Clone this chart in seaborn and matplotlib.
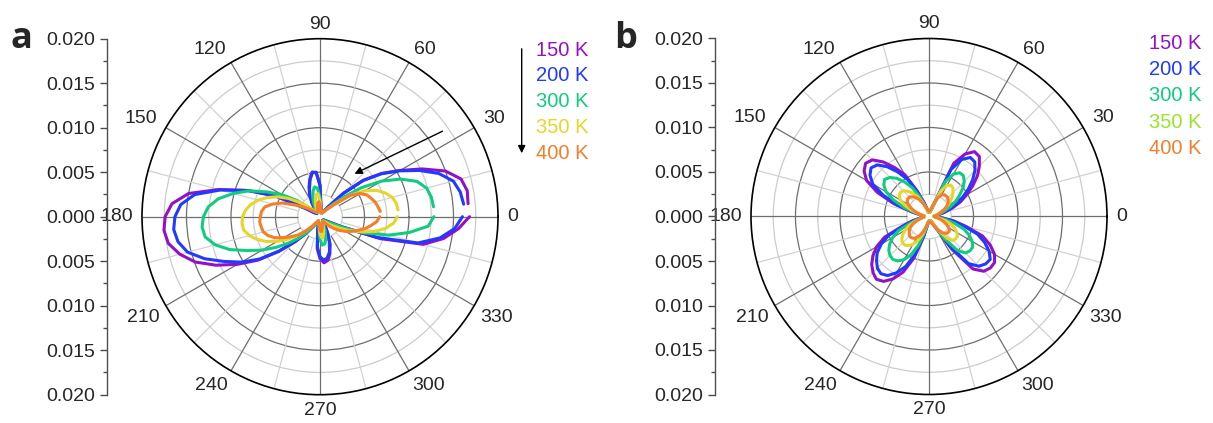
import numpy as np
import matplotlib
matplotlib.use("Agg")
import matplotlib.pyplot as plt
import seaborn as sns
from matplotlib.ticker import MultipleLocator, FuncFormatter, FixedLocator
from matplotlib.patches import FancyArrowPatch

sns.set_style("white")
plt.rcParams["font.family"] = ["Liberation Sans", "DejaVu Sans"]

# ---------------- data ----------------
angles_deg = list(range(0, 360, 5))
temps = ["150 K", "200 K", "300 K", "350 K", "400 K"]

# panel a
r_a_150 = [0.0168, 0.0167, 0.0168, 0.0164, 0.0150, 0.0127, 0.0104, 0.0085, 0.0064, 0.0037, 0.0015, 0.0007,
           0.0005, 0.0004, 0.0004, 0.0005, 0.0006, 0.0012, 0.0036, 0.0050, 0.0051, 0.0044, 0.0036, 0.0028,
           0.0019, 0.0010, 0.0006, 0.0005, 0.0006, 0.0008, 0.0018, 0.0055, 0.0086, 0.0118, 0.0150, 0.0167,
           0.0174, 0.0176, 0.0173, 0.0163, 0.0149, 0.0129, 0.0107, 0.0085, 0.0061, 0.0040, 0.0025, 0.0014,
           0.0008, 0.0006, 0.0005, 0.0006, 0.0015, 0.0036, 0.0047, 0.0052, 0.0050, 0.0043, 0.0033, 0.0021,
           0.0011, 0.0007, 0.0005, 0.0005, 0.0006, 0.0008, 0.0012, 0.0027, 0.0072, 0.0120, 0.0141, 0.0156]
r_a_200 = [0.0160, 0.0162, 0.0160, 0.0155, 0.0142, 0.0123, 0.0103, 0.0084, 0.0063, 0.0037, 0.0015, 0.0007,
           0.0005, 0.0004, 0.0004, 0.0005, 0.0006, 0.0012, 0.0035, 0.0050, 0.0050, 0.0043, 0.0035, 0.0027,
           0.0018, 0.0010, 0.0006, 0.0005, 0.0006, 0.0008, 0.0018, 0.0055, 0.0086, 0.0116, 0.0143, 0.0157,
           0.0163, 0.0165, 0.0162, 0.0154, 0.0138, 0.0119, 0.0102, 0.0083, 0.0060, 0.0039, 0.0024, 0.0013,
           0.0008, 0.0006, 0.0005, 0.0006, 0.0014, 0.0034, 0.0045, 0.0049, 0.0047, 0.0041, 0.0032, 0.0020,
           0.0011, 0.0007, 0.0005, 0.0005, 0.0006, 0.0008, 0.0012, 0.0026, 0.0068, 0.0114, 0.0137, 0.0152]
r_a_300 = [0.0128, 0.0128, 0.0127, 0.0124, 0.0116, 0.0100, 0.0080, 0.0057, 0.0033, 0.0017, 0.0009, 0.0006,
           0.0005, 0.0004, 0.0004, 0.0005, 0.0006, 0.0009, 0.0021, 0.0032, 0.0034, 0.0030, 0.0024, 0.0017,
           0.0011, 0.0007, 0.0006, 0.0008, 0.0016, 0.0032, 0.0050, 0.0066, 0.0085, 0.0101, 0.0116, 0.0126,
           0.0131, 0.0133, 0.0131, 0.0122, 0.0108, 0.0090, 0.0075, 0.0060, 0.0046, 0.0034, 0.0023, 0.0014,
           0.0008, 0.0006, 0.0005, 0.0006, 0.0008, 0.0013, 0.0026, 0.0032, 0.0031, 0.0025, 0.0017, 0.0010,
           0.0007, 0.0005, 0.0005, 0.0006, 0.0008, 0.0010, 0.0015, 0.0030, 0.0053, 0.0080, 0.0102, 0.0122]
r_a_350 = [0.0087, 0.0088, 0.0087, 0.0084, 0.0078, 0.0070, 0.0058, 0.0043, 0.0024, 0.0013, 0.0008, 0.0006,
           0.0005, 0.0004, 0.0004, 0.0005, 0.0006, 0.0008, 0.0018, 0.0026, 0.0025, 0.0020, 0.0014, 0.0009,
           0.0006, 0.0006, 0.0007, 0.0010, 0.0017, 0.0028, 0.0041, 0.0053, 0.0063, 0.0072, 0.0079, 0.0084,
           0.0087, 0.0088, 0.0087, 0.0082, 0.0075, 0.0066, 0.0055, 0.0044, 0.0033, 0.0022, 0.0014, 0.0009,
           0.0006, 0.0005, 0.0005, 0.0006, 0.0007, 0.0010, 0.0020, 0.0024, 0.0022, 0.0016, 0.0010, 0.0007,
           0.0006, 0.0006, 0.0007, 0.0009, 0.0013, 0.0018, 0.0026, 0.0037, 0.0050, 0.0064, 0.0075, 0.0083]
r_a_400 = [0.0067, 0.0068, 0.0066, 0.0064, 0.0061, 0.0058, 0.0052, 0.0042, 0.0023, 0.0013, 0.0009, 0.0006,
           0.0005, 0.0005, 0.0005, 0.0005, 0.0006, 0.0008, 0.0014, 0.0017, 0.0015, 0.0011, 0.0008, 0.0006,
           0.0006, 0.0006, 0.0007, 0.0008, 0.0010, 0.0015, 0.0022, 0.0031, 0.0045, 0.0055, 0.0063, 0.0066,
           0.0067, 0.0068, 0.0067, 0.0066, 0.0062, 0.0056, 0.0047, 0.0039, 0.0032, 0.0023, 0.0015, 0.0010,
           0.0007, 0.0006, 0.0005, 0.0006, 0.0007, 0.0009, 0.0015, 0.0017, 0.0014, 0.0010, 0.0007, 0.0006,
           0.0006, 0.0007, 0.0010, 0.0015, 0.0021, 0.0027, 0.0033, 0.0039, 0.0045, 0.0052, 0.0058, 0.0064]

# panel b
r_b_150 = [0.0006, 0.0006, 0.0010, 0.0018, 0.0028, 0.0039, 0.0049, 0.0060, 0.0071, 0.0080, 0.0088, 0.0089,
           0.0081, 0.0066, 0.0012, 0.0006, 0.0005, 0.0005, 0.0005, 0.0005, 0.0006, 0.0010, 0.0017, 0.0032,
           0.0054, 0.0067, 0.0080, 0.0090, 0.0093, 0.0089, 0.0081, 0.0064, 0.0042, 0.0020, 0.0009, 0.0006,
           0.0005, 0.0006, 0.0010, 0.0020, 0.0032, 0.0055, 0.0068, 0.0077, 0.0084, 0.0089, 0.0092, 0.0089,
           0.0081, 0.0069, 0.0050, 0.0024, 0.0010, 0.0006, 0.0005, 0.0005, 0.0005, 0.0005, 0.0005, 0.0006,
           0.0012, 0.0045, 0.0077, 0.0087, 0.0090, 0.0090, 0.0085, 0.0076, 0.0064, 0.0043, 0.0028, 0.0014]
r_b_200 = [0.0005, 0.0006, 0.0009, 0.0016, 0.0025, 0.0035, 0.0044, 0.0054, 0.0064, 0.0073, 0.0080, 0.0081,
           0.0074, 0.0058, 0.0010, 0.0006, 0.0005, 0.0005, 0.0005, 0.0005, 0.0006, 0.0009, 0.0016, 0.0030,
           0.0048, 0.0061, 0.0073, 0.0082, 0.0085, 0.0081, 0.0073, 0.0057, 0.0038, 0.0018, 0.0008, 0.0006,
           0.0005, 0.0006, 0.0009, 0.0018, 0.0029, 0.0050, 0.0062, 0.0071, 0.0077, 0.0082, 0.0084, 0.0081,
           0.0073, 0.0062, 0.0045, 0.0022, 0.0009, 0.0006, 0.0005, 0.0005, 0.0005, 0.0005, 0.0005, 0.0006,
           0.0011, 0.0040, 0.0069, 0.0079, 0.0083, 0.0084, 0.0078, 0.0069, 0.0058, 0.0040, 0.0025, 0.0012]
r_b_300 = [0.0005, 0.0005, 0.0008, 0.0013, 0.0019, 0.0027, 0.0035, 0.0042, 0.0050, 0.0056, 0.0060, 0.0060,
           0.0055, 0.0043, 0.0010, 0.0006, 0.0005, 0.0005, 0.0005, 0.0005, 0.0005, 0.0008, 0.0013, 0.0024,
           0.0037, 0.0047, 0.0056, 0.0062, 0.0065, 0.0062, 0.0056, 0.0044, 0.0030, 0.0015, 0.0008, 0.0005,
           0.0005, 0.0005, 0.0008, 0.0014, 0.0023, 0.0038, 0.0047, 0.0054, 0.0059, 0.0062, 0.0063, 0.0061,
           0.0056, 0.0047, 0.0034, 0.0017, 0.0008, 0.0005, 0.0005, 0.0005, 0.0005, 0.0005, 0.0005, 0.0006,
           0.0010, 0.0030, 0.0050, 0.0058, 0.0060, 0.0060, 0.0056, 0.0050, 0.0042, 0.0030, 0.0019, 0.0010]
r_b_350 = [0.0005, 0.0005, 0.0007, 0.0010, 0.0014, 0.0019, 0.0024, 0.0029, 0.0034, 0.0038, 0.0042, 0.0043,
           0.0040, 0.0032, 0.0012, 0.0006, 0.0005, 0.0005, 0.0005, 0.0005, 0.0005, 0.0007, 0.0011, 0.0018,
           0.0026, 0.0032, 0.0037, 0.0041, 0.0042, 0.0041, 0.0037, 0.0030, 0.0021, 0.0012, 0.0007, 0.0005,
           0.0005, 0.0005, 0.0007, 0.0011, 0.0017, 0.0025, 0.0031, 0.0036, 0.0040, 0.0042, 0.0042, 0.0040,
           0.0036, 0.0030, 0.0022, 0.0012, 0.0007, 0.0005, 0.0005, 0.0005, 0.0005, 0.0005, 0.0005, 0.0006,
           0.0009, 0.0020, 0.0032, 0.0038, 0.0039, 0.0039, 0.0036, 0.0032, 0.0027, 0.0020, 0.0013, 0.0008]
r_b_400 = [0.0006, 0.0007, 0.0009, 0.0012, 0.0015, 0.0019, 0.0023, 0.0026, 0.0028, 0.0030, 0.0030, 0.0030,
           0.0028, 0.0023, 0.0015, 0.0009, 0.0007, 0.0006, 0.0006, 0.0006, 0.0007, 0.0009, 0.0012, 0.0017,
           0.0022, 0.0026, 0.0029, 0.0031, 0.0031, 0.0030, 0.0027, 0.0022, 0.0017, 0.0012, 0.0008, 0.0006,
           0.0006, 0.0006, 0.0008, 0.0011, 0.0015, 0.0020, 0.0024, 0.0027, 0.0029, 0.0031, 0.0031, 0.0030,
           0.0027, 0.0023, 0.0017, 0.0011, 0.0008, 0.0006, 0.0006, 0.0006, 0.0006, 0.0006, 0.0007, 0.0009,
           0.0013, 0.0019, 0.0024, 0.0027, 0.0028, 0.0028, 0.0026, 0.0022, 0.0018, 0.0014, 0.0010, 0.0007]

series_a = [r_a_150, r_a_200, r_a_300, r_a_350, r_a_400]
series_b = [r_b_150, r_b_200, r_b_300, r_b_350, r_b_400]

line_colors_a = ["#9410C8", "#1F3BFF", "#10CC80", "#E6D52A", "#F47E2C"]
line_colors_b = ["#9410C8", "#1F3BFF", "#10CC80", "#E6D52A", "#F47E2C"]
label_colors_a = ["#9410C8", "#1F3BFF", "#10CC80", "#E6D52A", "#F47E2C"]
label_colors_b = ["#9410C8", "#1F3BFF", "#10CC80", "#9BE22D", "#F47E2C"]

RMAX = 0.02
W, H = 1213, 423
fig = plt.figure(figsize=(W / 100, H / 100), dpi=100)


def fx(px):
    return px / W


def fy(py):
    return 1 - py / H


def make_polar(cx, cy, R):
    ax = fig.add_axes([fx(cx - R), fy(cy + R), 2 * R / W, 2 * R / H], projection="polar")
    ax.set_facecolor("white")
    ax.set_theta_zero_location("E")
    ax.set_ylim(0, RMAX)
    ax.set_yticks([0.005, 0.010, 0.015])
    ax.yaxis.set_minor_locator(FixedLocator([0.0025, 0.0075, 0.0125, 0.0175]))
    ax.set_yticklabels([])
    ax.tick_params(axis="y", which="both", length=0)
    ax.yaxis.grid(True, which="major", color="#6e6e6e", lw=0.9)
    ax.yaxis.grid(True, which="minor", color="#cccccc", lw=0.9)
    ax.set_xticks([])
    ax.xaxis.grid(False)
    ax.vlines(np.deg2rad(np.arange(0, 360, 30)), 0.0025, RMAX, colors="#6e6e6e", lw=0.9, zorder=1)
    ax.vlines(np.deg2rad(np.arange(15, 360, 30)), 0.0025, RMAX, colors="#d2d2d2", lw=0.9, zorder=1)
    ax.spines["polar"].set_color("black")
    ax.spines["polar"].set_linewidth(1.2)
    for deg in range(0, 360, 30):
        th = np.deg2rad(deg)
        c, s = np.cos(th), np.sin(th)
        ha = "left" if c > 0.1 else ("right" if c < -0.1 else "center")
        if s > 0.1:
            va, pad = "baseline", 10
        elif s < -0.1:
            va, pad = "top", 7
        else:
            va, pad = "center", 9
        ax.annotate(str(deg), xy=(th, RMAX), xytext=(pad * 0.72 * c, pad * 0.72 * s),
                    textcoords="offset points", ha=ha, va=va, fontsize=14,
                    annotation_clip=False)
    return ax


def make_left_axis(x, cy, R):
    axl = fig.add_axes([fx(x), fy(cy + R), 0.0005, 2 * R / H])
    for sp in ["top", "right", "bottom"]:
        axl.spines[sp].set_visible(False)
    axl.spines["left"].set_color("#4d4d4d")
    axl.spines["left"].set_linewidth(1.0)
    axl.set_xticks([])
    axl.set_ylim(-RMAX, RMAX)
    axl.yaxis.set_major_locator(MultipleLocator(0.005))
    axl.yaxis.set_minor_locator(MultipleLocator(0.0025))
    axl.yaxis.set_major_formatter(FuncFormatter(lambda v, p: f"{abs(v):.3f}"))
    axl.tick_params(axis="y", which="both", left=True, right=False, labelleft=True)
    axl.tick_params(axis="y", which="major", length=5, width=1, color="#4d4d4d",
                    direction="out", labelsize=14, pad=3.5)
    axl.tick_params(axis="y", which="minor", length=3, width=1, color="#4d4d4d", direction="out")
    axl.patch.set_alpha(0)
    return axl


# ---------------- panel a ----------------
cxa, cya, R = 320, 216.7, 178
ax_a = make_polar(cxa, cya, R)
theta_a = np.deg2rad(angles_deg[1:] + [360])
for vals, col in zip(series_a, line_colors_a):
    sns.lineplot(x=theta_a, y=vals[1:] + [vals[0]], ax=ax_a, color=col, lw=2.2,
                 sort=False, estimator=None, legend=False, zorder=3)
ax_a.set_xlabel("")
ax_a.set_ylabel("")
ax_a.set_ylim(0, RMAX)
make_left_axis(107, cya, R)

# ---------------- panel b ----------------
cxb, cyb = 929, 216.5
ax_b = make_polar(cxb, cyb, R)
theta_b = np.deg2rad(angles_deg + [360])
for vals, col in zip(series_b, line_colors_b):
    sns.lineplot(x=theta_b, y=vals + [vals[0]], ax=ax_b, color=col, lw=2.2,
                 sort=False, estimator=None, legend=False, zorder=3)
ax_b.set_xlabel("")
ax_b.set_ylabel("")
ax_b.set_ylim(0, RMAX)
make_left_axis(714.5, cyb, R)

# ---------------- legends ----------------
for i, (t, c) in enumerate(zip(temps, label_colors_a)):
    fig.text(fx(536), fy(50 + i * 25.8), t, color=c, fontsize=14.5, ha="left", va="center")
for i, (t, c) in enumerate(zip(temps, label_colors_b)):
    fig.text(fx(1149), fy(43.5 + i * 26.2), t, color=c, fontsize=14.5, ha="left", va="center")

# arrows in panel a
fig.add_artist(FancyArrowPatch(posA=(fx(521.7), fy(46)), posB=(fx(521.7), fy(156)),
                               transform=fig.transFigure, arrowstyle="-|>",
                               mutation_scale=11, color="black", lw=1.0))
fig.add_artist(FancyArrowPatch(posA=(fx(445), fy(130)), posB=(fx(352), fy(175)),
                               transform=fig.transFigure, arrowstyle="-|>",
                               mutation_scale=11, color="black", lw=1.0))

# panel letters
fig.text(fx(10), fy(48), "a", fontsize=26, fontweight="bold",
         family=["Open Sans", "DejaVu Sans"], ha="left", va="baseline")
fig.text(fx(614), fy(48), "b", fontsize=26, fontweight="bold",
         family=["Open Sans", "DejaVu Sans"], ha="left", va="baseline")

fig.savefig("out.png", dpi=100)
